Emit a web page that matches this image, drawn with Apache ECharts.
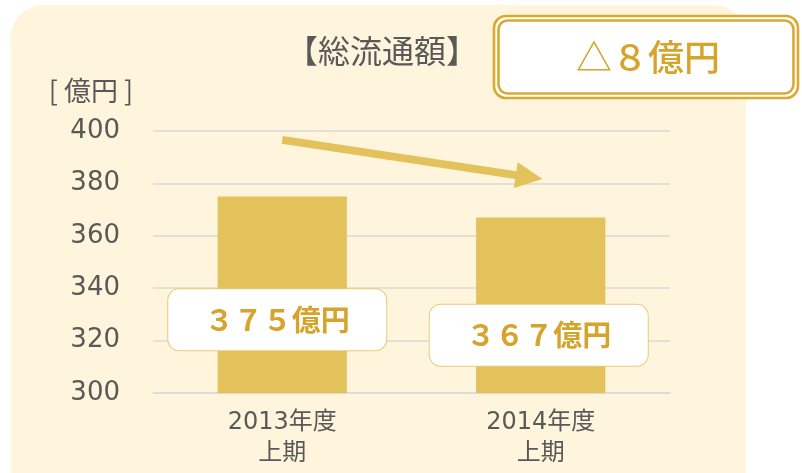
<!DOCTYPE html>
<html>
<head>
<meta charset="utf-8">
<script src="https://cdn.jsdelivr.net/npm/echarts@6/dist/echarts.min.js"></script>
<style>
  html, body { margin: 0; padding: 0; background: #fff; }
  #chart { width: 802px; height: 473px; }
</style>
</head>
<body>
<div id="chart"></div>
<script>
const categories = ["2013年度\n上期", "2014年度\n上期"];
const values = [375, 367];
const yTicks = { min: 300, max: 400, interval: 20 };
// trend arrow, in data units (position along the category axis, value)
const arrowFrom = [0, 396.6];
const arrowTo = [0.955, 382.4];

const GOLD_TEXT = "#D6A42B";
const BAR = "#E3C15B";
const GREY = "#595959";
const LINE = "#D9D9D9";

// half-width digits -> full-width
const zen = (n) => String(n).replace(/[0-9]/g, c => String.fromCharCode(c.charCodeAt(0) + 0xFEE0));
const delta = values[0] - values[1];

const chart = echarts.init(document.getElementById("chart"));

const labelOffsets = [[-5, 25], [-2, 30]];

chart.setOption({
  animation: false,
  textStyle: { fontFamily: "'DejaVu Sans', 'Noto Sans CJK JP', sans-serif" },
  title: [
    {
      text: "【総流通額】",
      left: 377, top: 30, textAlign: "center",
      textStyle: { fontSize: 32, fontWeight: "normal", color: GREY, fontFamily: "'Noto Sans CJK JP'" }
    },
    {
      text: "[ 億円 ]",
      left: 86, top: 72, textAlign: "center",
      textStyle: { fontSize: 27, fontWeight: "normal", color: GREY, fontFamily: "'Noto Sans CJK JP'" }
    }
  ],
  graphic: [
    {
      type: "rect", z: -10, silent: true,
      shape: { x: 11, y: 5, width: 735, height: 500, r: 32 },
      style: { fill: "#FFF5DC" }
    },
    {
      type: "rect", z: 10,
      shape: { x: 494, y: 16, width: 304, height: 82, r: 12 },
      style: { fill: "#fff", stroke: "#D9A932", lineWidth: 2.6 }
    },
    {
      type: "rect", z: 11,
      shape: { x: 498.5, y: 20.5, width: 295, height: 73, r: 9 },
      style: { fill: "#fff", stroke: "#D9A932", lineWidth: 2.6 }
    },
    {
      type: "text", z: 12, x: 648, y: 57,
      style: {
        text: "△" + zen(delta) + "億円",
        fill: GOLD_TEXT, fontSize: 36, fontWeight: 500, fontFamily: "'Noto Sans CJK JP'",
        align: "center", verticalAlign: "middle"
      }
    }
  ],
  grid: { left: 153, right: 132, top: 131, bottom: 80 },
  xAxis: [
    {
      type: "category",
      data: categories,
      axisLine: { lineStyle: { color: LINE, width: 1.5 } },
      axisTick: { show: false },
      axisLabel: { color: GREY, fontSize: 24, lineHeight: 31, margin: 14 }
    },
    {
      // hidden helper axis so the arrow can sit between category centres
      type: "value", show: false, min: -0.5, max: categories.length - 0.5
    }
  ],
  yAxis: {
    type: "value",
    min: yTicks.min, max: yTicks.max, interval: yTicks.interval,
    axisLine: { show: false },
    axisTick: { show: false },
    axisLabel: { color: GREY, fontSize: 26, margin: 33, fontFamily: "'DejaVu Sans'" },
    splitLine: { lineStyle: { color: LINE, width: 1.5 } }
  },
  series: [
    {
      type: "bar",
      data: values.map((v, i) => ({
        value: v,
        label: { offset: labelOffsets[i] }
      })),
      barWidth: "50%",
      itemStyle: { color: BAR },
      z: 2,
      label: {
        show: true,
        position: "inside",
        formatter: (p) => zen(p.value) + "億円",
        color: GOLD_TEXT,
        fontSize: 29,
        fontWeight: "bold",
        fontFamily: "'Noto Sans CJK JP'",
        backgroundColor: "#fff",
        borderColor: "#E8CB74",
        borderWidth: 1,
        borderRadius: 11,
        padding: [16, 34],
        width: 150,
        align: "center"
      }
    },
    {
      type: "line",
      xAxisIndex: 1,
      data: [],
      markLine: {
        silent: true,
        symbol: ["none", "triangle"],
        symbolSize: [26, 27],
        label: { show: false },
        lineStyle: { color: BAR, width: 8, type: "solid" },
        data: [[{ coord: arrowFrom }, { coord: arrowTo }]]
      }
    }
  ]
});
</script>
</body>
</html>
